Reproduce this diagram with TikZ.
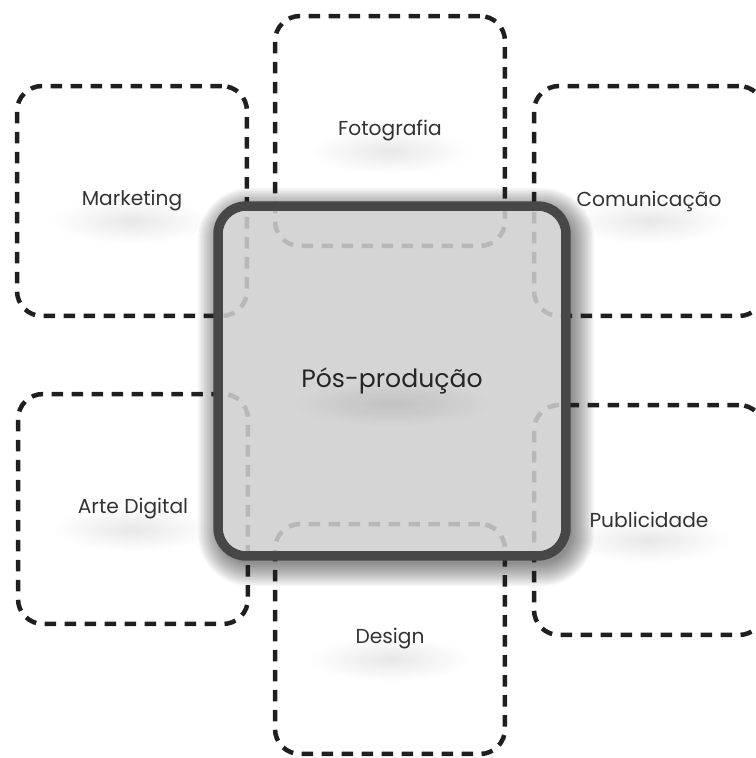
\documentclass[tikz,border=0pt]{standalone}
\usepackage{fontspec}
\setmainfont{Poppins}
\usetikzlibrary{fadings}
\tikzfading[name=glowfade, inner color=transparent!0, outer color=transparent!100]

\begin{document}
\begin{tikzpicture}[
  x=0.02cm, y=-0.02cm,
  field/.style={draw=black!88, line width=0.09cm, dash pattern=on 0.23cm off 0.17cm, rounded corners=0.5cm, minimum width=4.6cm, minimum height=4.6cm, font=\fontsize{11.5}{14}\selectfont, text=black!80},
  core/.style={draw=black!72, line width=0.19cm, fill=black!19, fill opacity=0.87, draw opacity=1, text opacity=1, rounded corners=0.56cm, minimum width=6.96cm, minimum height=7cm, font=\fontsize{14.3}{17}\selectfont, text=black!85},
  glow/.style={fill=black, path fading=glowfade, fill opacity=0.09}
]
\useasboundingbox (0,0) rectangle (756,758);
\clip (0,0) rectangle (756,758);

% soft shadow round the centre
\begin{scope}[even odd rule]
  \clip (0,0) rectangle (756,758) [rounded corners=0.6cm] (216,204) rectangle (568,558);
  \foreach \w in {1,...,16}
    \draw[black, opacity=0.035, line width=\w*0.06cm, rounded corners=0.56cm] (222,212) rectangle (570,562);
\end{scope}

\node[field] (market) at (132,201) {Marketing};
\node[field] (foto) at (390,131) {Fotografia};
\node[field] (comun) at (649,201) {Comunicação};
\node[field] (arte) at (133,509) {Arte Digital};
\node[field] (public) at (649,520) {Publicidade};
\node[field] (design) at (390,639) {Design};

\node[core] (pos) at (392,381) {Pós-produção};

% text shadows
\foreach \n in {market,foto,comun,arte,public,design}
  \fill[glow] ([yshift=-0.4cm]\n.center) ellipse [x radius=1.6cm, y radius=0.45cm];
\fill[glow] ([yshift=-0.45cm]pos.center) ellipse [x radius=2cm, y radius=0.45cm];
\end{tikzpicture}
\end{document}
